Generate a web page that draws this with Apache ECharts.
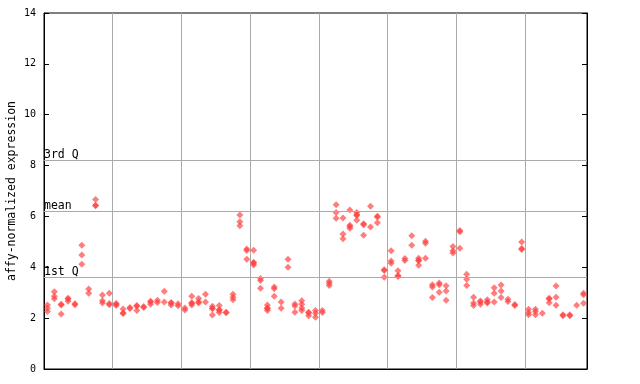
<!DOCTYPE html>
<html>
<head>
<meta charset="utf-8">
<script src="https://cdn.jsdelivr.net/npm/echarts@6/dist/echarts.min.js"></script>
<style>html,body{margin:0;padding:0;background:#fff}#c{width:640px;height:384px}</style>
</head>
<body>
<div id="c"></div>
<script>
// Expression values per sample (replicates), grouped by 10 samples
var group1 = [[2.52,2.39,2.26],[3.04,2.86,2.76],[2.55,2.52,2.16],[2.78,2.75,2.66],[2.57,2.53],[4.87,4.48,4.12],[3.15,2.98],[6.67,6.44,6.42],[2.91,2.68,2.6],[2.98,2.58,2.53]];
var group2 = [[2.58,2.55,2.5],[2.36,2.2,2.18],[2.42,2.38],[2.5,2.47,2.3],[2.46,2.42],[2.66,2.63,2.55],[2.7,2.62],[3.06,2.63],[2.62,2.6,2.52],[2.57,2.49]];
var group3 = [[2.4,2.32],[2.86,2.61,2.59,2.52],[2.77,2.64,2.6],[2.94,2.63],[2.47,2.39,2.37,2.12],[2.5,2.33,2.31,2.22],[2.23,2.21],[2.94,2.82,2.72],[6.06,5.79,5.63],[4.72,4.66,4.32]];
var group4 = [[4.67,4.2,4.17,4.09],[3.56,3.48,3.18],[2.52,2.4,2.38,2.3],[3.22,3.16,2.86],[2.63,2.39],[4.32,4.0],[2.56,2.48,2.23],[2.68,2.55,2.4,2.3],[2.23,2.2,2.09],[2.3,2.19,2.04]];
var group5 = [[2.3,2.22],[3.45,3.37,3.28],[6.46,6.15,5.93],[5.94,5.31,5.12],[6.25,5.65,5.6,5.54],[6.15,6.07,6.04,5.85],[5.71,5.67,5.26],[6.4,5.58],[6.01,5.98,5.75],[3.9,3.87,3.61]];
var group6 = [[4.65,4.25,4.16],[3.86,3.68,3.64],[4.35,4.27],[5.24,4.87],[4.36,4.28,4.26,4.08],[5.02,4.95,4.36],[3.31,3.22,2.81],[3.38,3.31,3.02],[3.27,3.07,2.7],[4.82,4.65,4.56]];
var group7 = [[5.45,5.4,4.75],[3.73,3.53,3.28],[2.82,2.6,2.5],[2.67,2.63,2.55],[2.72,2.63,2.6],[3.2,2.98,2.63],[3.3,3.07,2.81],[2.74,2.65],[2.54,2.5],[4.99,4.74,4.7]];
var group8 = [[2.35,2.22,2.13],[2.35,2.26,2.13],[2.19],[2.78,2.75,2.61],[3.26,2.82,2.51],[2.13,2.09],[2.13,2.09],[2.51],[2.98,2.92,2.59]];

var qValues = [8.22, 6.22, 3.62];
var qLabels = ['3rd Q', 'mean', '1st Q'];
var yTicks = [0, 2, 4, 6, 8, 10, 12, 14];
var yTitle = 'affy-normalized expression';

var samples = [].concat(group1, group2, group3, group4, group5, group6, group7, group8);
var nSamples = samples.length;
var points = [];
samples.forEach(function (vals, i) {
  vals.forEach(function (v) { points.push([i + 0.5, v]); });
});

var mono = '"DejaVu Sans Mono", monospace';
var chart = echarts.init(document.getElementById('c'), null, {renderer: 'canvas'});
chart.setOption({
  animation: false,
  grid: {left: 44, right: 53, top: 13, bottom: 15, containLabel: false, outerBoundsMode: 'none',
    show: true, borderColor: '#000', borderWidth: 1, backgroundColor: 'transparent'},
  xAxis: {
    type: 'value', min: 0, max: nSamples, interval: 10,
    axisLine: {show: true, lineStyle: {color: '#000'}},
    axisTick: {show: false}, axisLabel: {show: false},
    splitLine: {show: true, lineStyle: {color: '#aaaaaa', width: 1}}
  },
  yAxis: [{
    type: 'value', min: yTicks[0], max: yTicks[yTicks.length - 1], interval: 2,
    name: yTitle, nameLocation: 'middle', nameRotate: 90, nameGap: 26, nameMoveOverlap: false,
    nameTextStyle: {fontFamily: mono, fontSize: 11.5, color: '#000'},
    axisLine: {show: true, lineStyle: {color: '#000'}},
    axisTick: {show: true, inside: true, length: 5, lineStyle: {color: '#000'}},
    axisLabel: {fontFamily: mono, fontSize: 10, color: '#000', margin: 8},
    splitLine: {show: false}
  }, {
    type: 'value', min: yTicks[0], max: yTicks[yTicks.length - 1], interval: 2, position: 'right',
    axisLine: {show: true, lineStyle: {color: '#000'}},
    axisTick: {show: true, inside: true, length: 5, lineStyle: {color: '#000'}},
    axisLabel: {show: false}, splitLine: {show: false}
  }],
  series: [{
    type: 'scatter',
    data: points,
    symbol: 'diamond',
    symbolSize: 7,
    itemStyle: {color: '#ff4040', opacity: 0.68},
    z: 3,
    markLine: {
      silent: true, symbol: 'none', animation: false,
      lineStyle: {color: '#aaaaaa', width: 1, type: 'solid'},
      label: {show: true, position: 'insideStartTop', distance: [0, -1], padding: 0, fontFamily: mono, fontSize: 11.5, color: '#000',
        formatter: function (p) { return p.name; }},
      data: qValues.map(function (v, i) { return {name: qLabels[i], yAxis: v}; })
    }
  }]
});
</script>
</body>
</html>
